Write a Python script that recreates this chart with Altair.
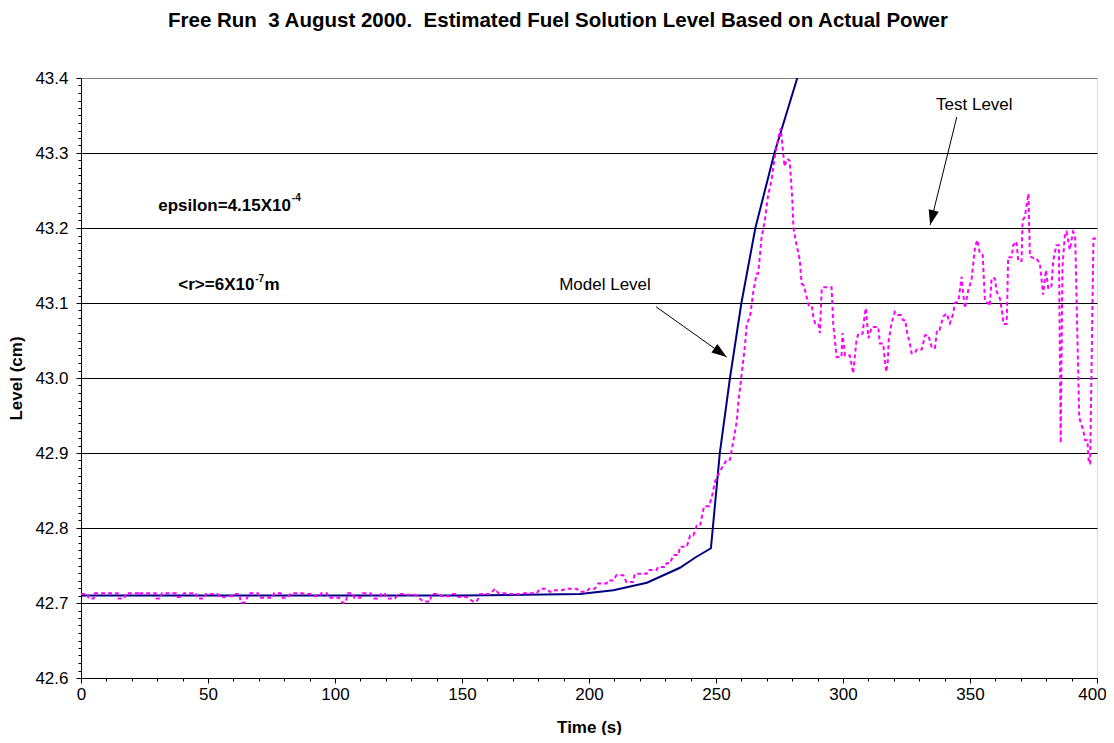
import math
import altair as alt
import pandas as pd

FONT = "Liberation Sans"
W, H = 1016, 600
X_DOM = [0, 400]
Y_DOM = [42.6, 43.4]

# ---------------- data ----------------
title_text = ["Free Run \u00a03 August 2000. \u00a0Estimated Fuel Solution Level Based on Actual Power"]

model_time = [0, 50, 100, 150, 196.5, 209.6, 222.8, 235.8, 242.0, 248.0,
              251.5, 255.5, 260.0, 265.5, 273.0, 282.0, 290.0]
model_level = [42.710, 42.710, 42.710, 42.710, 42.712, 42.717, 42.727, 42.747, 42.761, 42.773,
               42.900, 43.000, 43.100, 43.200, 43.300, 43.400, 43.480]

test_time = [
    0.0, 2.6, 3.0, 5.0, 5.4, 14.4, 14.8, 17.0, 17.6, 22.6, 23.0, 23.6, 29.4, 29.8, 31.4, 31.8,
    37.4, 38.0, 39.4, 40.6, 45.3, 45.8, 48.6, 49.2, 53.8, 54.4, 57.7, 58.4, 60.4, 61.0, 62.3,
    63.0, 64.6, 66.2, 69.6, 70.2, 75.5, 76.0, 78.7, 79.4, 81.4, 82.6, 87.3, 88.0, 90.6, 91.9,
    94.0, 94.6, 96.8, 97.4, 101.6, 103.0, 104.2, 105.0, 107.0, 107.6, 110.0, 111.0, 114.0,
    115.4, 117.5,
    118.0, 119.7, 120.2, 123.6, 125.0, 127.6, 128.2, 131.5, 134.8, 137.4, 138.0, 140.7, 142.0,
    145.9, 146.4, 147.9, 148.5, 151.8, 154.4, 155.8, 157.1, 161.0, 163.0, 164.3, 167.0, 167.6,
    172.8, 173.3, 179.4, 180.7, 183.3, 184.6, 186.0, 186.6, 189.2, 191.2, 195.1, 196.4, 199.0,
    200.0, 202.3, 203.6, 206.9, 207.4, 209.5, 210.8, 213.5, 214.7, 217.4, 218.0, 222.7, 223.3,
    226.6, 227.2, 230.0, 230.5, 231.9, 233.2, 235.2, 235.8, 238.5, 239.8, 241.1, 242.4, 243.7,
    245.3, 247.3, 248.6, 249.6, 251.6, 254.2, 255.5, 257.5, 258.2, 258.8, 260.1, 261.4, 262.1,
    263.4, 264.7, 266.0, 266.6, 267.9, 269.2, 270.5, 271.8, 273.2, 274.5, 275.5, 276.4, 277.0,
    278.0, 279.0, 280.0, 280.5, 281.2, 283.0, 283.7, 284.6, 285.7, 286.5, 287.7, 288.3, 289.0,
    290.3, 290.9, 291.6, 292.0, 295.5, 296.2, 297.5, 299.4, 299.8, 300.8, 302.7, 304.0, 305.3,
    306.0, 307.7, 308.6, 309.0, 310.0, 311.3, 313.9, 314.5, 315.8, 317.0, 317.6, 318.0, 319.1,
    320.4, 321.5, 322.8, 323.7, 324.6, 325.0, 326.3, 327.0, 328.3, 329.0, 331.0, 332.3, 333.6,
    335.0, 336.2, 337.0, 338.0, 339.5, 340.8, 342.1, 343.4, 344.0, 345.4, 346.7, 347.3, 348.0,
    349.3, 350.6, 352.0, 352.9, 353.9, 355.0, 355.9, 357.2, 357.8, 358.5, 359.8, 360.5, 361.8,
    362.8, 363.1, 364.4, 364.7, 365.0, 366.4, 367.0, 368.3, 369.0, 370.3, 370.7, 371.6, 373.0,
    373.6, 375.0, 376.0, 377.5, 378.8, 379.9, 380.8, 382.0, 382.8, 384.0, 385.0, 385.7, 386.4,
    387.4, 388.0, 389.3, 390.6, 391.4, 393.0, 394.6, 395.3, 396.2, 396.8, 397.3, 398.6, 400.0,
]
test_level = [
    42.712, 42.712, 42.706, 42.706, 42.713, 42.713, 42.706, 42.706, 42.713, 42.713, 42.710,
    42.713, 42.713, 42.706, 42.706, 42.713, 42.713, 42.708, 42.708, 42.713, 42.713, 42.706,
    42.706, 42.712, 42.712, 42.708, 42.708, 42.709, 42.709, 42.712, 42.712, 42.700, 42.701,
    42.713, 42.713, 42.707, 42.707, 42.713, 42.713, 42.707, 42.707, 42.713, 42.713, 42.712,
    42.712, 42.709, 42.709, 42.713, 42.713, 42.707, 42.707, 42.700, 42.701, 42.713, 42.713,
    42.707, 42.707, 42.713, 42.713, 42.706, 42.706,
    42.712, 42.712, 42.706, 42.706, 42.712, 42.712, 42.711, 42.711, 42.702, 42.702, 42.712,
    42.712, 42.709, 42.709, 42.712, 42.712, 42.708, 42.708, 42.702, 42.702, 42.712, 42.712,
    42.719, 42.713, 42.713, 42.712, 42.712, 42.713, 42.713, 42.719, 42.719, 42.715, 42.715,
    42.717, 42.717, 42.719, 42.719, 42.715, 42.715, 42.719, 42.719, 42.726, 42.726, 42.730,
    42.730, 42.737, 42.737, 42.728, 42.728, 42.739, 42.739, 42.744, 42.744, 42.748, 42.748,
    42.753, 42.753, 42.764, 42.764, 42.775, 42.775, 42.790, 42.790, 42.803, 42.803,
    42.829, 42.829, 42.845, 42.862, 42.876, 42.891, 42.891, 42.929, 42.943, 42.967, 43.005,
    43.043, 43.072, 43.082, 43.115, 43.139, 43.139, 43.186, 43.210, 43.243, 43.263, 43.296,
    43.320, 43.333, 43.301, 43.282, 43.292, 43.290, 43.240, 43.200, 43.186, 43.157, 43.126,
    43.123, 43.108, 43.097, 43.097, 43.082, 43.073, 43.073, 43.060, 43.117, 43.121, 43.121,
    43.070, 43.028, 43.028, 43.060, 43.030, 43.030, 43.006, 43.050, 43.059, 43.059, 43.086,
    43.093, 43.053, 43.068, 43.068, 43.046, 43.046, 43.008, 43.020, 43.050, 43.073, 43.088,
    43.084, 43.084, 43.077, 43.077, 43.064, 43.046, 43.033, 43.033, 43.038, 43.038, 43.057,
    43.057, 43.040, 43.040, 43.064, 43.064, 43.082, 43.086, 43.073, 43.086, 43.100, 43.102,
    43.135, 43.113, 43.093, 43.117, 43.131, 43.175, 43.184, 43.166, 43.164, 43.102, 43.100,
    43.096, 43.133, 43.133, 43.115, 43.106, 43.084, 43.072, 43.072, 43.108, 43.161, 43.161,
    43.177, 43.182, 43.156, 43.156, 43.210, 43.215, 43.246, 43.162, 43.160, 43.160, 43.153,
    43.111, 43.144, 43.120, 43.120, 43.157, 43.177, 43.177, 42.913, 43.148, 43.193, 43.195,
    43.171, 43.195, 43.190, 42.947, 42.930, 42.917, 42.917, 42.886, 42.886, 43.186, 43.186,
]

x_major_ticks = [0, 50, 100, 150, 200, 250, 300, 350, 400]
x_minor_ticks = [v for v in range(0, 401, 10) if v % 50 != 0]
y_major_ticks = [42.6, 42.7, 42.8, 42.9, 43.0, 43.1, 43.2, 43.3, 43.4]
y_minor_ticks = [round(42.6 + 0.01 * i, 2) for i in range(81) if i % 10 != 0]

# annotation texts (data coordinates)
label_text = ["Model Level", "Test Level"]
label_t = [206.3, 351.7]
label_level = [43.117, 43.358]

param_text = ["epsilon=4.15X10", "<r>=6X10", "m"]
param_t = [30.4, 38.3, 72.2]
param_level = [43.223, 43.117, 43.117]
sup_text = ["-4", "-7"]
sup_t = [83.0, 68.6]
sup_level = [43.236, 43.128]

arrow_tail_t = [226.4, 344.8]
arrow_tail_level = [43.095, 43.348]
arrow_tip_t = [254.2, 334.3]
arrow_tip_level = [43.028, 43.204]

# ---------------- frames ----------------
model_df = pd.DataFrame({"t": model_time, "level": model_level})
test_df = pd.DataFrame({"t": test_time, "level": test_level})
label_df = pd.DataFrame({"t": label_t, "level": label_level, "txt": label_text})
param_df = pd.DataFrame({"t": param_t, "level": param_level, "txt": param_text})
sup_df = pd.DataFrame({"t": sup_t, "level": sup_level, "txt": sup_text})
title_df = pd.DataFrame({"txt": title_text})

px_t = W / (X_DOM[1] - X_DOM[0])
px_l = H / (Y_DOM[1] - Y_DOM[0])
R = 9.4
head_t, head_l, head_a = [], [], []
for tt, tl, pt, pl in zip(arrow_tail_t, arrow_tail_level, arrow_tip_t, arrow_tip_level):
    dx = (pt - tt) * px_t
    dy = -(pl - tl) * px_l
    n = math.hypot(dx, dy)
    ux, uy = dx / n, dy / n
    head_t.append(pt - R * ux / px_t)
    head_l.append(pl + R * uy / px_l)
    head_a.append(math.degrees(math.atan2(dx, -dy)) % 360)
arrow_df = pd.DataFrame({"t": arrow_tail_t, "level": arrow_tail_level,
                         "t2": arrow_tip_t, "level2": arrow_tip_level})
head_df = pd.DataFrame({"t": head_t, "level": head_l, "ang": head_a})

xs = alt.Scale(domain=X_DOM, nice=False, zero=False)
ys = alt.Scale(domain=Y_DOM, nice=False, zero=False)

FS = 17
x_axis = alt.Axis(values=x_major_ticks, title="Time (s)", grid=False, tickSize=5,
                  tickColor="black", domainColor="black", labelFont=FONT, labelFontSize=FS,
                  labelColor="black", labelPadding=3, labelFlush=False,
                  labelOffset=alt.condition("datum.value >= 400", alt.value(-5), alt.value(0)),
                  titleFont=FONT, titleFontSize=FS, titleFontWeight="bold",
                  titleColor="black", titlePadding=17)
y_axis = alt.Axis(values=y_major_ticks, format=".1f", title="Level (cm)", grid=True,
                  gridColor=alt.condition("datum.value > 43.39", alt.value("#808080"),
                                          alt.value("#000000")),
                  gridWidth=1, tickSize=5, tickColor="black", domainColor="black",
                  labelFont=FONT, labelFontSize=FS, labelColor="black", labelPadding=8,
                  labelFlush=False, titleFont=FONT, titleFontSize=FS,
                  titleFontWeight="bold", titleColor="black", titlePadding=9)

x_none = alt.X("t:Q", scale=xs, axis=None)
y_none = alt.Y("level:Q", scale=ys, axis=None)

model_line = alt.Chart(model_df).mark_line(color="#000080", strokeWidth=2, clip=True).encode(
    x=alt.X("t:Q", scale=xs, axis=x_axis),
    y=alt.Y("level:Q", scale=ys, axis=y_axis),
)

test_line = alt.Chart(test_df).mark_line(color="#FF00FF", strokeWidth=2,
                                         strokeDash=[4, 3], clip=True).encode(
    x=x_none, y=y_none
)

minor = alt.Chart(test_df).mark_point(opacity=0).encode(
    x=alt.X("t:Q", scale=xs, axis=alt.Axis(values=x_minor_ticks, labels=False, domain=False,
                                           grid=False, tickSize=3, tickColor="black",
                                           title=None, orient="bottom")),
    y=alt.Y("level:Q", scale=ys, axis=alt.Axis(values=y_minor_ticks, labels=False, domain=False,
                                               grid=False, tickSize=3, tickColor="black",
                                               title=None, orient="left")),
)

labels = alt.Chart(label_df).mark_text(font=FONT, fontSize=FS, color="black",
                                       align="center", baseline="alphabetic").encode(
    x=x_none, y=y_none, text="txt:N"
)
params = alt.Chart(param_df).mark_text(font=FONT, fontSize=FS, fontWeight="bold",
                                       color="black", align="left",
                                       baseline="alphabetic").encode(
    x=x_none, y=y_none, text="txt:N"
)
sups = alt.Chart(sup_df).mark_text(font=FONT, fontSize=10, fontWeight="bold", color="black",
                                   align="left", baseline="alphabetic").encode(
    x=x_none, y=y_none, text="txt:N"
)
arrows = alt.Chart(arrow_df).mark_rule(color="black", strokeWidth=1).encode(
    x=x_none, y=y_none, x2="t2:Q", y2="level2:Q"
)
heads = alt.Chart(head_df).mark_point(shape="M0,-1L0.55,0.6L-0.55,0.6Z", filled=True,
                                      color="black", opacity=1, size=(2 * R) ** 2).encode(
    x=x_none, y=y_none, angle=alt.Angle("ang:Q", scale=None)
)
title = alt.Chart(title_df).mark_text(font=FONT, fontSize=20.5, fontWeight="bold",
                                      color="black", align="center",
                                      baseline="alphabetic").encode(
    x=alt.value(477), y=alt.value(-51.5), text="txt:N"
)

chart = alt.layer(
    model_line, minor, test_line, arrows, heads, labels, params, sups, title
).resolve_axis(x="independent", y="independent").properties(
    width=W, height=H,
    padding={"left": 73, "top": 70, "right": 9, "bottom": 57},
    autosize=alt.AutoSizeParams(type="none"),
).configure_view(stroke="#808080", strokeWidth=2).configure(background="white")

chart.save("out.html", embed_options={"renderer": "svg", "actions": False})
